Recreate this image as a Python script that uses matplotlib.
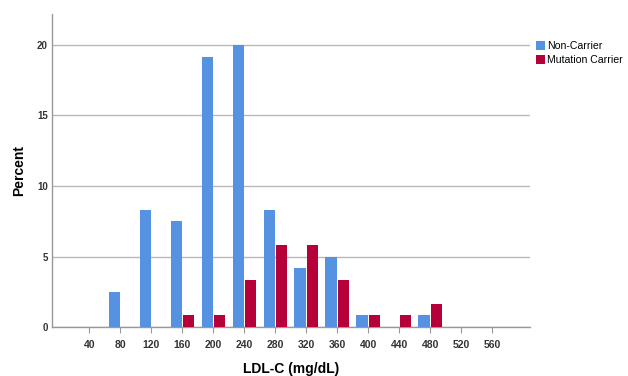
import numpy as np
import matplotlib
matplotlib.use('Agg')
import matplotlib.pyplot as plt
from matplotlib.patches import Patch

plt.rcParams['font.family'] = ['Liberation Sans', 'DejaVu Sans']

# bin centres (LDL-C, mg/dL) and percent per group
bins = [40, 80, 120, 160, 200, 240, 280, 320, 360, 400, 440, 480, 520, 560]
non_carrier = [0, 2.5, 8.33, 7.5, 19.17, 20.0, 8.33, 4.17, 5.0, 0.83, 0, 0.83, 0, 0]
carrier = [0, 0, 0, 0.83, 0.83, 3.33, 5.83, 5.83, 3.33, 0.83, 0.83, 1.67, 0, 0]

blue = '#5592e2'
red = '#b5003a'

fig = plt.figure(figsize=(6.28, 3.76), dpi=100)
ax = fig.add_axes([0.083, 0.130, 0.761, 0.833])

x = np.array(bins, dtype=float)
w = 14.5
ax.bar(x - w - 0.6, non_carrier, width=w, align='edge', color=blue, zorder=3)
ax.bar(x + 0.6, carrier, width=w, align='edge', color=red, zorder=3)

ax.set_xlim(-8, 609)
ax.set_ylim(0, 22.2)
ax.set_xticks(bins)
ax.set_xticklabels([str(b) for b in bins], fontsize=7.5, fontweight='bold',
                   color='#333333')
ax.set_yticks([0, 5, 10, 15, 20])
ax.set_yticklabels(['0', '5', '10', '15', '20'], fontsize=7,
                   fontweight='bold', color='#333333')
ax.tick_params(axis='x', length=4, color='#999999', pad=5)
ax.tick_params(axis='y', length=0, pad=3)

ax.grid(axis='y', color='#b8b8b8', linewidth=1.0, zorder=0)
for s in ['top', 'right']:
    ax.spines[s].set_visible(False)
for s in ['left', 'bottom']:
    ax.spines[s].set_color('#999999')
    ax.spines[s].set_linewidth(1.0)

ax.set_xlabel('LDL-C (mg/dL)', fontsize=10, fontweight='bold', labelpad=9)
ax.set_ylabel('Percent', fontsize=10, fontweight='bold', labelpad=8)

handles = [Patch(facecolor=blue, label='Non-Carrier'),
           Patch(facecolor=red, label='Mutation Carrier')]
fig.legend(handles=handles, loc='upper left', bbox_to_anchor=(0.841, 0.91),
           frameon=False, fontsize=7.6, handlelength=0.85, handleheight=0.95,
           handletextpad=0.25, labelspacing=0.35, borderpad=0.2)

fig.savefig('out.png', dpi=100)
